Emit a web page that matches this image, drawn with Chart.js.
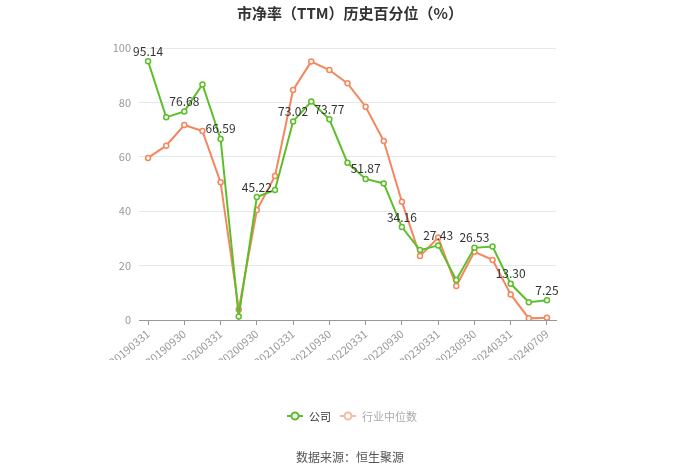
<!DOCTYPE html>
<html><head><meta charset="utf-8">
<script src="https://cdn.jsdelivr.net/npm/chart.js@4"></script>
<style>html,body{margin:0;padding:0;background:#fff;}#wrap{width:700px;height:474px;position:relative;}</style>
</head><body>
<div id="wrap"><canvas id="c" width="700" height="474"></canvas></div>
<script>
const categories = ['20190331','20190630','20190930','20191231','20200331','20200630','20200930','20201231','20210331','20210630','20210930','20211231','20220331','20220630','20220930','20221231','20230331','20230630','20230930','20231231','20240331','20240630','20240709'];
const companyValues = [95.14,74.5,76.68,86.6,66.59,1.3,45.22,47.8,73.02,80.3,73.77,57.8,51.87,50.2,34.16,25.7,27.43,14.7,26.53,27.0,13.30,6.5,7.25];
const industryValues = [59.6,64.1,71.7,69.5,50.6,3.9,40.4,52.9,84.6,95.0,91.9,87.0,78.4,65.8,43.5,23.5,30.3,12.5,25.1,22.1,9.4,0.6,0.8];
const yTicks = [0,20,40,60,80,100];
const labeledIdx = [0,2,4,6,8,10,12,14,16,18,20,22];
const titleText = '市净率（TTM）历史百分位（%）';
const seriesNames = ['公司','行业中位数'];
const sourceText = '数据来源：恒生聚源';

const GREEN = '#5cbf2a', ORANGE = '#f5865d';
const FONT = "'Noto Sans CJK SC', 'Noto Sans', sans-serif";

const deco = {
  id: 'deco',
  afterDatasetsDraw(chart) {
    const ctx = chart.ctx;
    const meta = chart.getDatasetMeta(0);
    ctx.save();
    ctx.font = '12px ' + FONT;
    ctx.fillStyle = '#333';
    ctx.textAlign = 'center';
    ctx.textBaseline = 'bottom';
    labeledIdx.forEach(i => {
      const p = meta.data[i];
      ctx.fillText(companyValues[i].toFixed(2), p.x, p.y - 4);
    });
    ctx.restore();
  },
  afterDraw(chart) {
    const ctx = chart.ctx;
    ctx.save();
    ctx.font = 'bold 15px ' + FONT;
    ctx.fillStyle = '#333';
    ctx.textAlign = 'center';
    ctx.textBaseline = 'middle';
    ctx.fillText(titleText, 350, 13);
    const items = [
      {x: 287, color: GREEN, text: seriesNames[0], tc: '#333'},
      {x: 340, color: '#f7b9a2', text: seriesNames[1], tc: '#aaa'}
    ];
    ctx.font = '11px ' + FONT;
    ctx.textAlign = 'left';
    items.forEach(it => {
      const y = 416;
      ctx.strokeStyle = it.color;
      ctx.lineWidth = 2;
      ctx.beginPath(); ctx.moveTo(it.x, y); ctx.lineTo(it.x + 16, y); ctx.stroke();
      ctx.beginPath(); ctx.arc(it.x + 8, y, 3.5, 0, Math.PI * 2);
      ctx.fillStyle = '#fff'; ctx.fill(); ctx.stroke();
      ctx.fillStyle = it.tc;
      ctx.fillText(it.text, it.x + 22, y + 1);
    });
    ctx.font = '12px ' + FONT;
    ctx.fillStyle = '#555';
    ctx.textAlign = 'center';
    ctx.fillText(sourceText, 350, 457);
    ctx.restore();
  }
};

new Chart(document.getElementById('c'), {
  type: 'line',
  data: {
    labels: categories,
    datasets: [
      {label: seriesNames[0], data: companyValues, borderColor: GREEN, backgroundColor: '#fff',
       borderWidth: 2, pointRadius: 2.5, pointBorderWidth: 1.5, pointBackgroundColor: '#fff', pointBorderColor: GREEN, tension: 0},
      {label: seriesNames[1], data: industryValues, borderColor: ORANGE, backgroundColor: '#fff',
       borderWidth: 2, pointRadius: 2.5, pointBorderWidth: 1.5, pointBackgroundColor: '#fff', pointBorderColor: ORANGE, tension: 0}
    ]
  },
  options: {
    responsive: false,
    animation: false,
    events: [],
    layout: {padding: {left: 100, right: 144, top: 48, bottom: 114}},
    plugins: {legend: {display: false}, title: {display: false}, tooltip: {enabled: false}},
    scales: {
      x: {
        offset: true,
        grid: {display: true, drawOnChartArea: false, drawTicks: true, tickLength: 5, color: '#999', offset: false},
        border: {display: true, color: '#999', width: 1},
        ticks: {
          autoSkip: false, minRotation: 40, maxRotation: 40, color: '#999', padding: 2,
          font: {size: 11, family: FONT},
          callback: function(v, i) { return labeledIdx.includes(i) ? categories[i] : null; }
        },
        afterFit(s) { s.height = 40; }
      },
      y: {
        min: 0, max: 100,
        afterBuildTicks(s) { s.ticks = yTicks.map(v => ({value: v})); },
        grid: {color: '#e8e8e8', drawTicks: false},
        border: {display: false},
        ticks: {color: '#999', padding: 8, font: {size: 11, family: FONT}},
        afterFit(s) { s.width = 39; }
      }
    }
  },
  plugins: [deco]
});
</script>
</body></html>
